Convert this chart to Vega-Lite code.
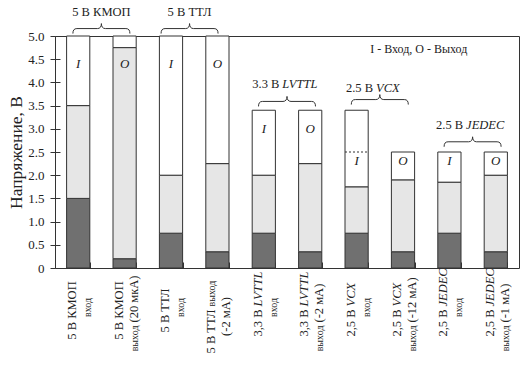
{
  "$schema": "https://vega.github.io/schema/vega-lite/v6.json",
  "width": 464,
  "height": 232,
  "autosize": "none",
  "padding": {"left": 55, "top": 36, "right": 5, "bottom": 102},
  "background": "white",
  "config": {
    "view": {"stroke": "#333", "strokeWidth": 1},
    "font": "Liberation Serif",
    "axis": {"labelFont": "Liberation Serif", "titleFont": "Liberation Serif"}
  },
  "datasets": {
    "segs": [
      {"bar": "5 В КМОП / вход", "lo": 0, "hi": 1.5, "z": "low"},
      {"bar": "5 В КМОП / вход", "lo": 1.5, "hi": 3.5, "z": "mid"},
      {"bar": "5 В КМОП / вход", "lo": 3.5, "hi": 5.0, "z": "high"},
      {"bar": "5 В КМОП / выход (20 мкА)", "lo": 0, "hi": 0.2, "z": "low"},
      {"bar": "5 В КМОП / выход (20 мкА)", "lo": 0.2, "hi": 4.75, "z": "mid"},
      {"bar": "5 В КМОП / выход (20 мкА)", "lo": 4.75, "hi": 5.0, "z": "high"},
      {"bar": "5 В ТТЛ / вход", "lo": 0, "hi": 0.75, "z": "low"},
      {"bar": "5 В ТТЛ / вход", "lo": 0.75, "hi": 2.0, "z": "mid"},
      {"bar": "5 В ТТЛ / вход", "lo": 2.0, "hi": 5.0, "z": "high"},
      {"bar": "5 В ТТЛ выход / (-2 мА)", "lo": 0, "hi": 0.35, "z": "low"},
      {"bar": "5 В ТТЛ выход / (-2 мА)", "lo": 0.35, "hi": 2.25, "z": "mid"},
      {"bar": "5 В ТТЛ выход / (-2 мА)", "lo": 2.25, "hi": 5.0, "z": "high"},
      {"bar": "3,3 В LVTTL / вход", "lo": 0, "hi": 0.75, "z": "low"},
      {"bar": "3,3 В LVTTL / вход", "lo": 0.75, "hi": 2.0, "z": "mid"},
      {"bar": "3,3 В LVTTL / вход", "lo": 2.0, "hi": 3.4, "z": "high"},
      {"bar": "3,3 В LVTTL / выход (-2 мА)", "lo": 0, "hi": 0.35, "z": "low"},
      {"bar": "3,3 В LVTTL / выход (-2 мА)", "lo": 0.35, "hi": 2.25, "z": "mid"},
      {"bar": "3,3 В LVTTL / выход (-2 мА)", "lo": 2.25, "hi": 3.4, "z": "high"},
      {"bar": "2,5 В VCX / вход", "lo": 0, "hi": 0.75, "z": "low"},
      {"bar": "2,5 В VCX / вход", "lo": 0.75, "hi": 1.75, "z": "mid"},
      {"bar": "2,5 В VCX / вход", "lo": 1.75, "hi": 3.4, "z": "high"},
      {"bar": "2,5 В VCX / выход (-12 мА)", "lo": 0, "hi": 0.35, "z": "low"},
      {"bar": "2,5 В VCX / выход (-12 мА)", "lo": 0.35, "hi": 1.9, "z": "mid"},
      {"bar": "2,5 В VCX / выход (-12 мА)", "lo": 1.9, "hi": 2.5, "z": "high"},
      {"bar": "2,5 В JEDEC / вход", "lo": 0, "hi": 0.75, "z": "low"},
      {"bar": "2,5 В JEDEC / вход", "lo": 0.75, "hi": 1.85, "z": "mid"},
      {"bar": "2,5 В JEDEC / вход", "lo": 1.85, "hi": 2.5, "z": "high"},
      {"bar": "2,5 В JEDEC / выход (-1 мА)", "lo": 0, "hi": 0.35, "z": "low"},
      {"bar": "2,5 В JEDEC / выход (-1 мА)", "lo": 0.35, "hi": 2.0, "z": "mid"},
      {"bar": "2,5 В JEDEC / выход (-1 мА)", "lo": 2.0, "hi": 2.5, "z": "high"}
    ],
    "io": [
      {"bar": "5 В КМОП / вход", "y": 4.4, "t": "I"},
      {"bar": "5 В КМОП / выход (20 мкА)", "y": 4.4, "t": "O"},
      {"bar": "5 В ТТЛ / вход", "y": 4.4, "t": "I"},
      {"bar": "5 В ТТЛ выход / (-2 мА)", "y": 4.4, "t": "O"},
      {"bar": "3,3 В LVTTL / вход", "y": 3.0, "t": "I"},
      {"bar": "3,3 В LVTTL / выход (-2 мА)", "y": 3.0, "t": "O"},
      {"bar": "2,5 В VCX / вход", "y": 2.3, "t": "I"},
      {"bar": "2,5 В VCX / выход (-12 мА)", "y": 2.3, "t": "O"},
      {"bar": "2,5 В JEDEC / вход", "y": 2.3, "t": "I"},
      {"bar": "2,5 В JEDEC / выход (-1 мА)", "y": 2.3, "t": "O"}
    ],
    "dots": [
      {"bar": "2,5 В VCX / вход", "v": 2.5}
    ],
    "groups": [
      {"pos": 1.0, "yb": 5.16, "tx": 1.0, "yt": 5.51, "pre": "5 В КМОП", "suf": ""},
      {"pos": 2.9, "yb": 5.16, "tx": 2.9, "yt": 5.51, "pre": "5 В ТТЛ", "suf": ""},
      {"pos": 5.0, "yb": 3.59, "tx": 4.9, "yt": 3.97, "pre": "3.3 В", "suf": "LVTTL"},
      {"pos": 7.0, "yb": 3.63, "tx": 6.92, "yt": 3.89, "pre": "2.5 В", "suf": "VCX"},
      {"pos": 9.0, "yb": 2.72, "tx": 8.86, "yt": 3.08, "pre": "2.5 В", "suf": "JEDEC"}
    ],
    "note": [
      {"x": 7.84, "y": 4.72, "t": "I - Вход, O - Выход"}
    ]
  },
  "layer": [
    {
      "layer": [
        {
          "data": {"name": "segs"},
          "mark": {"type": "bar", "stroke": "#333", "strokeWidth": 1},
          "encoding": {
            "x": {
              "field": "bar", "type": "nominal", "sort": null,
              "scale": {
                "domain": ["5 В КМОП / вход", "5 В КМОП / выход (20 мкА)", "5 В ТТЛ / вход", "5 В ТТЛ выход / (-2 мА)", "3,3 В LVTTL / вход", "3,3 В LVTTL / выход (-2 мА)", "2,5 В VCX / вход", "2,5 В VCX / выход (-12 мА)", "2,5 В JEDEC / вход", "2,5 В JEDEC / выход (-1 мА)"],
                "paddingInner": 0.5, "paddingOuter": 0.25
              },
              "axis": {"orient": "bottom", "title": null, "labels": false, "domain": false, "grid": false, "ticks": true, "tickSize": 6, "offset": -6, "tickBand": "extent", "tickColor": "#333"}
            },
            "y": {
              "field": "lo", "type": "quantitative",
              "scale": {"domain": [0, 5], "nice": false},
              "axis": {"orient": "left", "title": "Напряжение, В", "values": [0, 0.5, 1, 1.5, 2, 2.5, 3, 3.5, 4, 4.5, 5], "labelExpr": "datum.value == 0 ? '0' : format(datum.value, '.1f')", "domain": false, "grid": false, "tickSize": 5, "tickColor": "#333", "labelPadding": 6, "labelFontSize": 13, "labelColor": "#222", "titleFontSize": 17.5, "titleFontWeight": "normal", "titleColor": "#222", "titlePadding": 2}
            },
            "y2": {"field": "hi"},
            "color": {"field": "z", "type": "nominal", "scale": {"domain": ["low", "mid", "high"], "range": ["#707070", "#e6e6e6", "#ffffff"]}, "legend": null}
          }
        },
        {
          "data": {"name": "io"},
          "mark": {"type": "text", "font": "Liberation Serif", "fontStyle": "italic", "fontSize": 13, "color": "#222"},
          "encoding": {
            "x": {"field": "bar", "type": "nominal", "sort": null,
              "axis": {"orient": "bottom", "title": null, "ticks": false, "domain": false, "grid": false, "labelAngle": 270, "labelAlign": "center", "labelBaseline": "alphabetic", "labelPadding": 42, "labelOffset": -2, "labelFontSize": 12.5, "labelColor": "#222", "labelOverlap": false, "labelBound": false, "labelFlush": false, "labelLimit": 300,
                "labelExpr": "test(regexp('LVTTL|VCX|JEDEC|выход'), split(datum.value, ' / ')[0]) ? '' : split(datum.value, ' / ')[0]"}},
            "y": {"field": "y", "type": "quantitative",
              "axis": {"orient": "left", "title": null, "labels": false, "domain": false, "grid": false, "values": [0, 0.5, 1, 1.5, 2, 2.5, 3, 3.5, 4, 4.5, 5], "tickSize": 5, "offset": -5, "tickColor": "#333"}},
            "text": {"field": "t"}
          }
        },
        {
          "data": {"name": "dots"},
          "mark": {"type": "rule", "strokeDash": [2, 2], "color": "#333", "strokeWidth": 1},
          "encoding": {
            "x": {"field": "bar", "type": "nominal", "sort": null, "bandPosition": 0,
              "axis": {"orient": "bottom", "title": null, "ticks": false, "domain": false, "grid": false, "labelAngle": 270, "labelAlign": "right", "labelBaseline": "alphabetic", "labelPadding": 41, "labelOffset": -2, "labelFontSize": 12.5, "labelColor": "#222", "labelOverlap": false, "labelBound": false, "labelFlush": false, "labelLimit": 300,
                "labelExpr": "test(regexp(' (LVTTL|VCX|JEDEC|выход)$'), split(datum.value, ' / ')[0]) ? replace(split(datum.value, ' / ')[0], regexp(' (LVTTL|VCX|JEDEC|выход)$'), '') : ''"}},
            "x2": {"field": "bar", "bandPosition": 1},
            "y": {"field": "v", "type": "quantitative", "axis": null}
          }
        },
        {
          "data": {"name": "segs"},
          "mark": {"type": "point", "opacity": 0},
          "encoding": {
            "x": {"field": "bar", "type": "nominal", "sort": null,
              "axis": {"orient": "bottom", "title": null, "ticks": false, "domain": false, "grid": false, "labelAngle": 270, "labelAlign": "left", "labelBaseline": "alphabetic", "labelPadding": 38, "labelOffset": -2, "labelFontSize": 12.5, "labelFontStyle": "italic", "labelColor": "#222", "labelOverlap": false, "labelBound": false, "labelFlush": false, "labelLimit": 300,
                "labelExpr": "test(regexp('(LVTTL|VCX|JEDEC)$'), split(datum.value, ' / ')[0]) ? replace(split(datum.value, ' / ')[0], regexp('^.* '), '') : ''"}}
          }
        },
        {
          "data": {"name": "segs"},
          "mark": {"type": "point", "opacity": 0},
          "encoding": {
            "x": {"field": "bar", "type": "nominal", "sort": null,
              "axis": {"orient": "bottom", "title": null, "ticks": false, "domain": false, "grid": false, "labelAngle": 270, "labelAlign": "left", "labelBaseline": "alphabetic", "labelPadding": 38, "labelOffset": -2, "labelFontSize": 10, "labelColor": "#222", "labelOverlap": false, "labelBound": false, "labelFlush": false, "labelLimit": 300,
                "labelExpr": "test(regexp('выход$'), split(datum.value, ' / ')[0]) ? 'выход' : ''"}}
          }
        },
        {
          "data": {"name": "segs"},
          "mark": {"type": "point", "opacity": 0},
          "encoding": {
            "x": {"field": "bar", "type": "nominal", "sort": null,
              "axis": {"orient": "bottom", "title": null, "ticks": false, "domain": false, "grid": false, "labelAngle": 270, "labelAlign": "center", "labelBaseline": "alphabetic", "labelPadding": 39, "labelOffset": 13, "labelFontSize": 10, "labelColor": "#222", "labelOverlap": false, "labelBound": false, "labelFlush": false, "labelLimit": 300,
                "labelExpr": "split(datum.value, ' / ')[1] == 'вход' ? 'вход' : ''"}}
          }
        },
        {
          "data": {"name": "segs"},
          "mark": {"type": "point", "opacity": 0},
          "encoding": {
            "x": {"field": "bar", "type": "nominal", "sort": null,
              "axis": {"orient": "bottom", "title": null, "ticks": false, "domain": false, "grid": false, "labelAngle": 270, "labelAlign": "right", "labelBaseline": "alphabetic", "labelPadding": 57, "labelOffset": 13, "labelFontSize": 10, "labelColor": "#222", "labelOverlap": false, "labelBound": false, "labelFlush": false, "labelLimit": 300,
                "labelExpr": "indexof(split(datum.value, ' / ')[1], 'выход ') == 0 ? 'выход' : ''"}}
          }
        },
        {
          "data": {"name": "segs"},
          "mark": {"type": "point", "opacity": 0},
          "encoding": {
            "x": {"field": "bar", "type": "nominal", "sort": null,
              "axis": {"orient": "bottom", "title": null, "ticks": false, "domain": false, "grid": false, "labelAngle": 270, "labelAlign": "left", "labelBaseline": "alphabetic", "labelPadding": 54, "labelOffset": 13, "labelFontSize": 12.5, "labelColor": "#222", "labelOverlap": false, "labelBound": false, "labelFlush": false, "labelLimit": 300,
                "labelExpr": "indexof(split(datum.value, ' / ')[1], 'выход ') == 0 ? replace(split(datum.value, ' / ')[1], 'выход ', '') : ''"}}
          }
        },
        {
          "data": {"name": "segs"},
          "mark": {"type": "point", "opacity": 0},
          "encoding": {
            "x": {"field": "bar", "type": "nominal", "sort": null,
              "axis": {"orient": "bottom", "title": null, "ticks": false, "domain": false, "grid": false, "labelAngle": 270, "labelAlign": "center", "labelBaseline": "alphabetic", "labelPadding": 48, "labelOffset": 13, "labelFontSize": 12.5, "labelColor": "#222", "labelOverlap": false, "labelBound": false, "labelFlush": false, "labelLimit": 300,
                "labelExpr": "indexof(split(datum.value, ' / ')[1], '(') == 0 ? split(datum.value, ' / ')[1] : ''"}}
          }
        }
      ],
      "resolve": {"axis": {"x": "independent", "y": "independent"}}
    },
    {
      "layer": [
        {
          "data": {"name": "groups"},
          "mark": {"type": "point", "shape": "M -1 0.175 C -1 0.06 -0.96 0 -0.86 0 L -0.14 0 C -0.05 0 0 -0.06 0 -0.175 C 0 -0.06 0.05 0 0.14 0 L 0.86 0 C 0.96 0 1 0.06 1 0.175", "size": 3249, "filled": false, "stroke": "#333", "strokeWidth": 1, "opacity": 1},
          "encoding": {
            "x": {"field": "pos", "type": "quantitative", "scale": {"domain": [0, 10], "nice": false, "zero": false}, "axis": null},
            "y": {"field": "yb", "type": "quantitative", "axis": null}
          }
        },
        {
          "data": {"name": "groups"},
          "transform": [{"filter": {"field": "suf", "equal": ""}}],
          "mark": {"type": "text", "font": "Liberation Serif", "fontSize": 12.5, "color": "#222", "align": "center", "baseline": "middle"},
          "encoding": {
            "x": {"field": "tx", "type": "quantitative", "axis": null},
            "y": {"field": "yt", "type": "quantitative", "axis": null},
            "text": {"field": "pre"}
          }
        },
        {
          "data": {"name": "groups"},
          "transform": [{"filter": {"not": {"field": "suf", "equal": ""}}}],
          "mark": {"type": "text", "font": "Liberation Serif", "fontSize": 12.5, "color": "#222", "align": "right", "baseline": "middle", "dx": -3},
          "encoding": {
            "x": {"field": "tx", "type": "quantitative", "axis": null},
            "y": {"field": "yt", "type": "quantitative", "axis": null},
            "text": {"field": "pre"}
          }
        },
        {
          "data": {"name": "groups"},
          "transform": [{"filter": {"not": {"field": "suf", "equal": ""}}}],
          "mark": {"type": "text", "font": "Liberation Serif", "fontSize": 12.5, "fontStyle": "italic", "color": "#222", "align": "left", "baseline": "middle"},
          "encoding": {
            "x": {"field": "tx", "type": "quantitative", "axis": null},
            "y": {"field": "yt", "type": "quantitative", "axis": null},
            "text": {"field": "suf"}
          }
        },
        {
          "data": {"name": "note"},
          "mark": {"type": "text", "font": "Liberation Serif", "fontSize": 12, "color": "#222", "align": "center", "baseline": "middle"},
          "encoding": {
            "x": {"field": "x", "type": "quantitative", "axis": null},
            "y": {"field": "y", "type": "quantitative", "axis": null},
            "text": {"field": "t"}
          }
        }
      ]
    }
  ],
  "resolve": {"scale": {"x": "independent"}}
}
